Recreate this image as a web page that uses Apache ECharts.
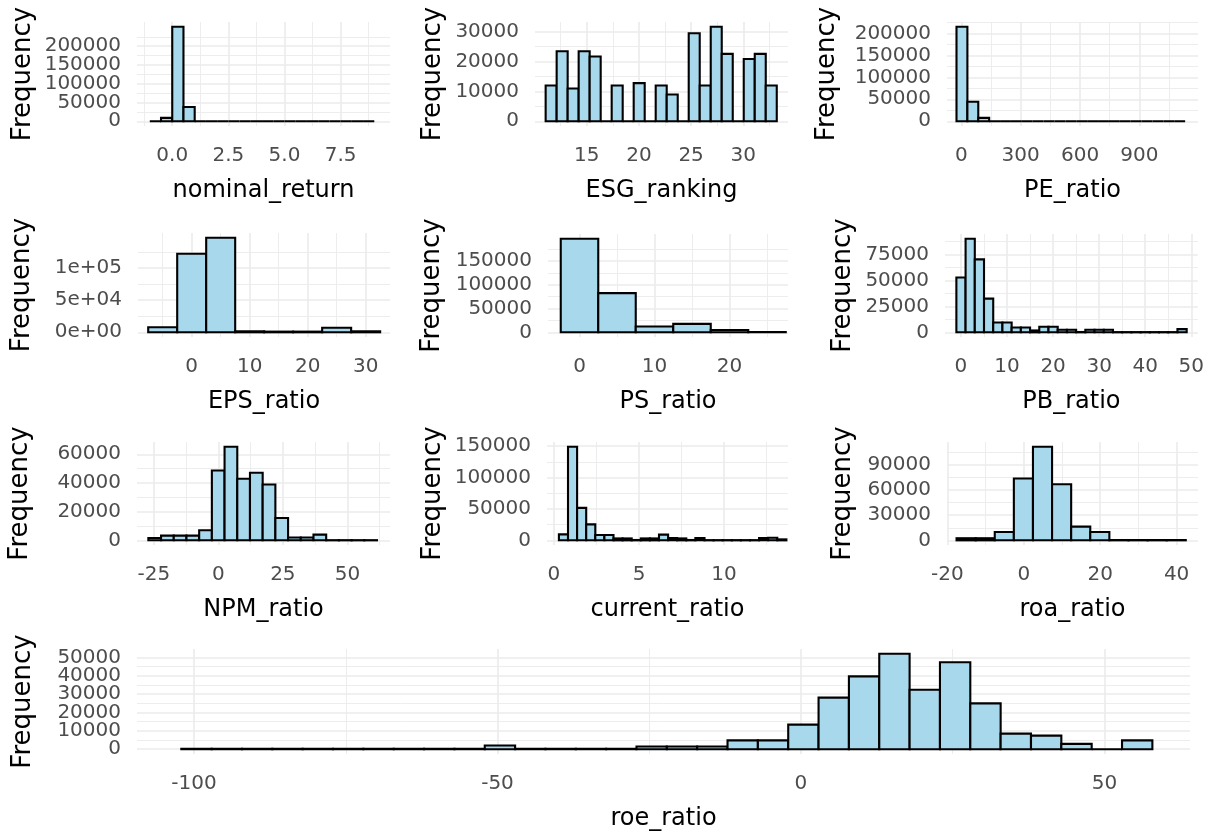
<!DOCTYPE html>
<html>
<head>
<meta charset="utf-8">
<script src="https://cdn.jsdelivr.net/npm/echarts@6/dist/echarts.min.js"></script>
<style>
  html, body { margin: 0; padding: 0; background: #fff; }
  #chart { width: 1207px; height: 832px; }
</style>
</head>
<body>
<div id="chart"></div>
<script>
/* -------------------------------------------------------------------------- */
/*                     Histograms of the return / ratio columns               */
/* -------------------------------------------------------------------------- */

// each histogram: first bin edge, bin width, counts per bin
const nominalStart = -1.0, nominalWidth = 0.5;
const nominalCounts = [0, 9000, 252000, 38000, 0, 0, 0, 0, 0, 0, 0, 0, 0, 0, 0, 0, 0, 0, 0, 0];
const nominalXTicks = [0, 2.5, 5, 7.5];
const nominalXLabels = ['0.0', '2.5', '5.0', '7.5'];
const nominalYTicks = [0, 50000, 100000, 150000, 200000];

const esgStart = 11.07, esgWidth = 1.054;
const esgCounts = [12000, 23500, 11000, 23500, 21700, 0, 12000, 0, 12800, 0, 12000,
  9000, 0, 29500, 12000, 31700, 22600, 0, 20900, 22600, 12000];
const esgXTicks = [15, 20, 25, 30];
const esgYTicks = [0, 10000, 20000, 30000];

const peStart = -24, peWidth = 55;
const peCounts = [215000, 44400, 7800, 0, 0, 0, 0, 0, 0, 0, 0, 0, 0, 0, 0, 0, 0, 0, 0, 0, 0];
const peXTicks = [0, 300, 600, 900];
const peYTicks = [0, 50000, 100000, 150000, 200000];

const epsStart = -7.5, epsWidth = 5;
const epsCounts = [7700, 122000, 147000, 1500, 1000, 1000, 7000, 1500];
const epsXTicks = [0, 10, 20, 30];
const epsYTicks = [0, 50000, 100000];
const epsYLabels = ['0e+00', '5e+04', '1e+05'];

const psStart = -2.5, psWidth = 5;
const psCounts = [197000, 82400, 12200, 17700, 5000, 500];
const psXTicks = [0, 10, 20];
const psYTicks = [0, 50000, 100000, 150000];

const pbStart = -1, pbWidth = 2;
const pbCounts = [52800, 90300, 70300, 32500, 9400, 9400, 4700, 4700, 1800, 5300, 5300, 2500,
  2500, 300, 2500, 2500, 2500, 200, 200, 200, 200, 200, 200, 200, 3100];
const pbXTicks = [0, 10, 20, 30, 40, 50];
const pbYTicks = [0, 25000, 50000, 75000];

const npmStart = -27.1, npmWidth = 4.92;
const npmCounts = [1600, 3300, 3300, 3300, 7000, 48700, 65300, 42900, 47100, 38900, 15600,
  2000, 2000, 4000, 100, 100, 100, 100];
const npmXTicks = [-25, 0, 25, 50];
const npmYTicks = [0, 20000, 40000, 60000];

const currentStart = 0.29, currentWidth = 0.535;
const currentCounts = [9500, 149000, 51700, 25300, 8400, 8400, 3000, 3000, 500, 3000, 3000, 9000,
  3500, 3000, 500, 3500, 300, 300, 300, 300, 300, 300, 3500, 4000, 1500];
const currentXTicks = [0, 5, 10];
const currentYTicks = [0, 50000, 100000, 150000];

const roaStart = -17.6, roaWidth = 5;
const roaCounts = [2500, 2500, 10000, 74000, 112000, 67000, 16400, 10000, 300, 300, 300, 300];
const roaXTicks = [-20, 0, 20, 40];
const roaYTicks = [0, 30000, 60000, 90000];

const roeStart = -102.1, roeWidth = 5;
const roeCounts = [300, 300, 300, 300, 300, 300, 300, 300, 300, 300, 2000, 300, 300, 300, 300,
  1500, 1500, 1500, 4800, 4800, 13400, 28100, 39700, 52000, 32400, 47400, 25000, 8500, 7400,
  2900, 0, 4800];
const roeXTicks = [-100, -50, 0, 50];
const roeYTicks = [0, 10000, 20000, 30000, 40000, 50000];

// panel boxes are [left, top, right, bottom] in px, titleX = centre of the y title
const panels = [
  { name: 'nominal_return', start: nominalStart, width: nominalWidth, counts: nominalCounts,
    xTicks: nominalXTicks, xLabels: nominalXLabels, yTicks: nominalYTicks,
    xRange: [-1.57, 9.70], box: [137, 22, 390, 126], titleX: 23 },
  { name: 'ESG_ranking', start: esgStart, width: esgWidth, counts: esgCounts,
    xTicks: esgXTicks, yTicks: esgYTicks,
    xRange: [10.05, 34.28], box: [535, 22, 788, 126], titleX: 433 },
  { name: 'PE_ratio', start: peStart, width: peWidth, counts: peCounts,
    xTicks: peXTicks, yTicks: peYTicks,
    xRange: [-72, 1196], box: [947, 22, 1198, 126], titleX: 827 },
  { name: 'EPS_ratio', start: epsStart, width: epsWidth, counts: epsCounts,
    xTicks: epsXTicks, yTicks: epsYTicks, yLabels: epsYLabels,
    xRange: [-9.26, 34.2], box: [138, 233, 390, 337], titleX: 22 },
  { name: 'PS_ratio', start: psStart, width: psWidth, counts: psCounts,
    xTicks: psXTicks, yTicks: psYTicks,
    xRange: [-4.2, 27.8], box: [548, 234, 788, 337], titleX: 432 },
  { name: 'PB_ratio', start: pbStart, width: pbWidth, counts: pbCounts,
    xTicks: pbXTicks, yTicks: pbYTicks,
    xRange: [-3.47, 51.4], box: [945, 234, 1198, 337], titleX: 843 },
  { name: 'NPM_ratio', start: npmStart, width: npmWidth, counts: npmCounts,
    xTicks: npmXTicks, yTicks: npmYTicks,
    xRange: [-31.5, 66.5], box: [137, 442, 390, 545], titleX: 20 },
  { name: 'current_ratio', start: currentStart, width: currentWidth, counts: currentCounts,
    xTicks: currentXTicks, yTicks: currentYTicks,
    xRange: [-0.41, 13.76], box: [547, 442, 788, 545], titleX: 433 },
  { name: 'roa_ratio', start: roaStart, width: roaWidth, counts: roaCounts,
    xTicks: roaXTicks, yTicks: roaYTicks,
    xRange: [-20.1, 45.6], box: [947, 442, 1198, 545], titleX: 843 },
  { name: 'roe_ratio', start: roeStart, width: roeWidth, counts: roeCounts,
    xTicks: roeXTicks, yTicks: roeYTicks,
    xRange: [-109.4, 64.1], box: [137, 649, 1190, 754], titleX: 23 }
];

const FONT = 'DejaVu Sans';
const FILL = '#a8d8ec';
const GRID = '#ebebeb';

// ggplot style minor breaks: half way between majors, inside the panel range
const minorBreaks = (ticks, lo, hi) => {
  const step = ticks[1] - ticks[0];
  const out = [];
  for (let v = ticks[0] - step / 2; v <= hi; v += step) {
    if (v >= lo) out.push(v);
  }
  return out;
};

const renderBin = (params, api) => {
  const topLeft = api.coord([api.value(0), api.value(2)]);
  const bottomRight = api.coord([api.value(1), 0]);
  return {
    type: 'rect',
    shape: {
      x: topLeft[0],
      y: topLeft[1],
      width: bottomRight[0] - topLeft[0],
      height: bottomRight[1] - topLeft[1]
    },
    style: { fill: FILL, stroke: '#000', lineWidth: 2.1 }
  };
};

const tickLabel = { margin: 16, interval: 0, showMinLabel: true, showMaxLabel: true,
  hideOverlap: false, fontFamily: FONT, fontSize: 20, color: '#4d4d4d' };

const grids = [], xAxes = [], yAxes = [], series = [];

panels.forEach((p, i) => {
  const [l, t, r, b] = p.box;
  grids.push({ left: l, top: t, width: r - l, height: b - t });

  const top = Math.max(...p.counts);
  const yMin = -0.05 * top, yMax = 1.05 * top;
  const [xMin, xMax] = p.xRange;

  const xFmt = v => (p.xLabels ? p.xLabels[p.xTicks.indexOf(v)] : String(v));
  const yFmt = v => (p.yLabels ? p.yLabels[p.yTicks.indexOf(v)] : String(v));

  // y labels overlap in the original, so they are split over two axes
  // (echarts would drop every other one otherwise)
  const yEven = p.yTicks.filter((v, k) => k % 2 === 0);
  const yOdd = p.yTicks.filter((v, k) => k % 2 === 1);

  // major x axis: labels, title and major grid
  xAxes.push({
    type: 'value', gridIndex: i, min: xMin, max: xMax, position: 'bottom',
    name: p.name, nameLocation: 'middle', nameGap: 53,
    nameTextStyle: { fontFamily: FONT, fontSize: 24, color: '#000' },
    axisLine: { show: false },
    axisTick: { show: false, customValues: p.xTicks },
    axisLabel: Object.assign({}, tickLabel, { customValues: p.xTicks, formatter: xFmt, margin: 20 }),
    splitLine: { show: true, lineStyle: { color: GRID, width: 1.6 } }
  });
  // minor x grid
  xAxes.push({
    type: 'value', gridIndex: i, min: xMin, max: xMax, position: 'bottom',
    axisLine: { show: false },
    axisTick: { show: false, customValues: minorBreaks(p.xTicks, xMin, xMax) },
    axisLabel: { show: false },
    splitLine: { show: true, lineStyle: { color: GRID, width: 0.9 } }
  });

  yAxes.push({
    type: 'value', gridIndex: i, min: yMin, max: yMax, position: 'left',
    name: 'Frequency', nameLocation: 'middle', nameRotate: 90,
    nameGap: l - p.titleX - 13,
    nameTextStyle: { fontFamily: FONT, fontSize: 26, color: '#000' },
    axisLine: { show: false },
    axisTick: { show: false, customValues: p.yTicks },
    axisLabel: Object.assign({}, tickLabel, { customValues: yEven, formatter: yFmt }),
    splitLine: { show: true, lineStyle: { color: GRID, width: 1.6 } }
  });
  yAxes.push({
    type: 'value', gridIndex: i, min: yMin, max: yMax, position: 'left',
    axisLine: { show: false },
    axisTick: { show: false, customValues: minorBreaks(p.yTicks, yMin, yMax) },
    axisLabel: { show: false },
    splitLine: { show: true, lineStyle: { color: GRID, width: 0.9 } }
  });
  yAxes.push({
    type: 'value', gridIndex: i, min: yMin, max: yMax, position: 'left', offset: 0,
    axisLine: { show: false },
    axisTick: { show: false, customValues: yOdd },
    axisLabel: Object.assign({}, tickLabel, { customValues: yOdd, formatter: yFmt }),
    splitLine: { show: false }
  });

  series.push({
    type: 'custom',
    xAxisIndex: 2 * i,
    yAxisIndex: 3 * i,
    clip: false,
    renderItem: renderBin,
    encode: { x: [0, 1], y: 2 },
    data: p.counts.map((c, k) => [p.start + k * p.width, p.start + (k + 1) * p.width, c])
  });
});

const chart = echarts.init(document.getElementById('chart'), null, { renderer: 'canvas' });
chart.setOption({
  animation: false,
  backgroundColor: '#fff',
  grid: grids,
  xAxis: xAxes,
  yAxis: yAxes,
  series: series
});
</script>
</body>
</html>
